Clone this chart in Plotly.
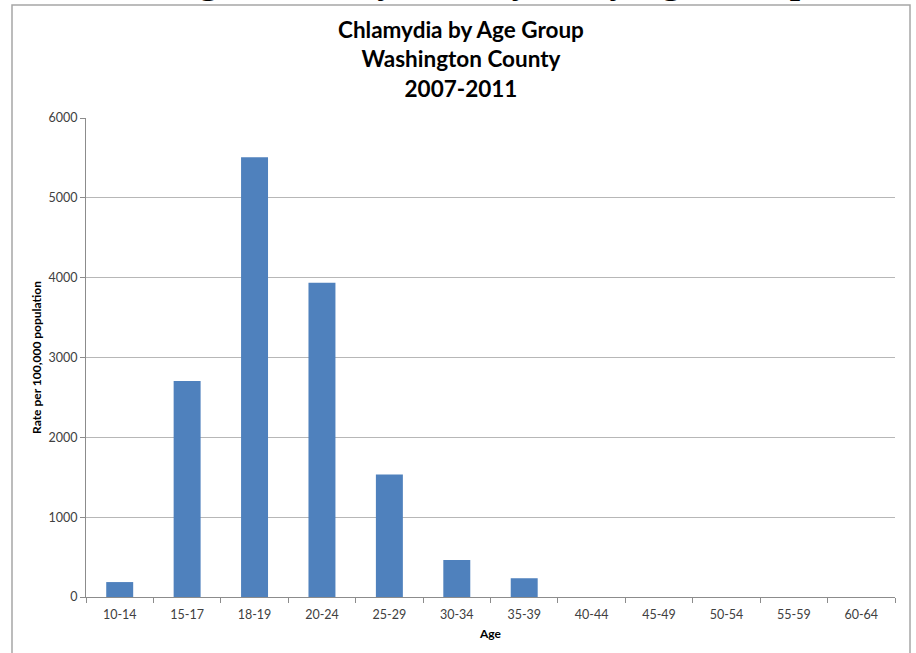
import plotly.graph_objects as go

# Chlamydia rates by age group, Washington County, 2007-2011
age_groups = ["10-14", "15-17", "18-19", "20-24", "25-29", "30-34",
              "35-39", "40-44", "45-49", "50-54", "55-59", "60-64"]
rates = [187, 2707, 5507, 3935, 1535, 465, 235, 0, 0, 0, 0, 0]

y_ticks = [0, 1000, 2000, 3000, 4000, 5000, 6000]

title_lines = ["Chlamydia by Age Group", "Washington County", "2007-2011"]
heading = "Washington County Chlamydia by Age Group"

FONT = "Lato, Carlito, 'Liberation Sans', Arial, sans-serif"
GRID = "#b7b7b7"
TEXT = "#404040"

fig = go.Figure(
    go.Bar(
        x=age_groups,
        y=rates,
        marker=dict(color="#4f81bd", line=dict(width=0)),
        width=0.4,
    )
)

fig.update_layout(
    width=916,
    height=653,
    margin=dict(l=86, r=21, t=118, b=56),
    paper_bgcolor="white",
    plot_bgcolor="white",
    showlegend=False,
    font=dict(family=FONT, color=TEXT, size=12),
)

fig.update_xaxes(
    type="category",
    tickson="boundaries",
    ticks="outside",
    ticklen=5,
    ticklabelstandoff=6,
    tickcolor="#8c8c8c",
    showline=True,
    linecolor="#8c8c8c",
    linewidth=1,
    showgrid=False,
    tickfont=dict(size=12.5, color=TEXT, family=FONT),
    title=dict(text="<b>Age</b>", font=dict(size=12, color="black", family=FONT), standoff=8),
)

fig.update_yaxes(
    range=[0, 6000],
    tickvals=y_ticks,
    ticks="outside",
    ticklen=5,
    tickcolor="#8c8c8c",
    showline=True,
    linecolor="#8c8c8c",
    linewidth=1,
    showgrid=True,
    gridcolor=GRID,
    gridwidth=1,
    zeroline=False,
    tickfont=dict(size=12.5, color=TEXT, family=FONT),
    title=dict(text="<b>Rate per 100,000 population</b>",
               font=dict(size=12, color="black", family=FONT), standoff=4),
)

# Three-line chart title
fig.add_annotation(
    text="<b>" + "<br>".join(title_lines) + "</b>",
    xref="paper", yref="paper", x=(461 - 86) / 809, y=1.0,
    yshift=118 - 59,
    xanchor="center", yanchor="middle",
    showarrow=False,
    font=dict(size=22.5, color="black", family=FONT),
)

# Document heading above the chart frame (mostly off the page)
fig.add_annotation(
    text="<b>" + heading + "</b>",
    xref="paper", yref="paper", x=(812 - 86) / 809, y=1.0,
    yshift=115,
    xanchor="right", yanchor="bottom",
    showarrow=False,
    font=dict(size=37, color="black", family="'Liberation Serif', 'Times New Roman', serif"),
)

# Chart frame
fig.add_shape(
    type="rect", xref="paper", yref="paper",
    x0=(12 - 86) / 809, x1=(910 - 86) / 809,
    y0=-(700 - 597) / 479, y1=1 + (118 - 5) / 479,
    line=dict(color="#a6a6a6", width=1.5),
    fillcolor="rgba(0,0,0,0)",
    layer="above",
)

fig.write_html("out.html")
